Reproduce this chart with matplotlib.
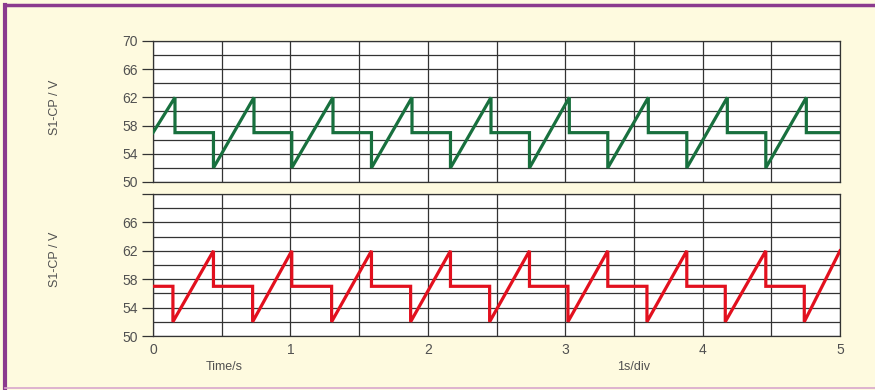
import matplotlib
matplotlib.use("Agg")
import matplotlib.pyplot as plt
from matplotlib.lines import Line2D

plt.rcParams["font.family"] = ["Liberation Sans", "DejaVu Sans"]

# ---- data ----
green_t = [0.0, 0.16, 0.16, 0.44, 0.44, 0.735, 0.735, 1.01, 1.01, 1.31, 1.31,
           1.59, 1.59, 1.885, 1.885, 2.165, 2.165, 2.46, 2.46, 2.74, 2.74,
           3.03, 3.03, 3.31, 3.31, 3.605, 3.605, 3.885, 3.885, 4.18, 4.18,
           4.46, 4.46, 4.755, 4.755, 5.0]
green_v = [57, 62, 57, 57, 52, 62, 57, 57, 52, 62, 57,
           57, 52, 62, 57, 57, 52, 62, 57, 57, 52,
           62, 57, 57, 52, 62, 57, 57, 52, 62, 57,
           57, 52, 62, 57, 57]

red_t = [0.0, 0.145, 0.145, 0.44, 0.44, 0.725, 0.725, 1.01, 1.01, 1.30, 1.30,
         1.59, 1.59, 1.875, 1.875, 2.165, 2.165, 2.45, 2.45, 2.74, 2.74,
         3.02, 3.02, 3.31, 3.31, 3.595, 3.595, 3.885, 3.885, 4.165, 4.165,
         4.46, 4.46, 4.74, 4.74, 5.0]
red_v = [57, 57, 52, 62, 57, 57, 52, 62, 57, 57, 52,
         62, 57, 57, 52, 62, 57, 57, 52, 62, 57,
         57, 52, 62, 57, 57, 52, 62, 57, 57, 52,
         62, 57, 57, 52, 62]

y_ticks_top = [50, 54, 58, 62, 66, 70]
y_labels_top = ["50", "54", "58", "62", "66", "70"]
y_labels_bottom = ["50", "54", "58", "62", "66", ""]
x_ticks = [0, 1, 2, 3, 4, 5]
x_labels = ["0", "1", "2", "3", "4", "5"]
y_grid = list(range(50, 71, 2))
x_grid = [0.0, 0.5, 1.0, 1.5, 2.0, 2.5, 3.0, 3.5, 4.0, 4.5, 5.0]

BG = "#FEFADF"
GRID = "#333333"
TXT = "#505050"

fig = plt.figure(figsize=(8.75, 3.9), dpi=100, facecolor=BG)

W, H = 875, 390
def axrect(l, t, r, b):
    return [l / W, 1 - b / H, (r - l) / W, (b - t) / H]

ax1 = fig.add_axes(axrect(153, 41, 840, 182))
ax2 = fig.add_axes(axrect(153, 194, 840, 336))

for ax, t, v, col, labs in [(ax1, green_t, green_v, "#18703E", y_labels_top),
                            (ax2, red_t, red_v, "#E2101E", y_labels_bottom)]:
    ax.set_facecolor("white")
    ax.set_xlim(0, 5)
    ax.set_ylim(50, 70)
    for g in y_grid:
        ax.axhline(g, color=GRID, lw=0.9, zorder=1)
    for g in x_grid:
        ax.axvline(g, color=GRID, lw=0.9, zorder=1)
    ax.plot(t, v, color=col, lw=2.3, zorder=3, solid_joinstyle="miter")
    ax.set_yticks(y_ticks_top)
    ax.set_yticklabels(labs)
    ax.tick_params(axis="y", length=8, width=0.9, color=GRID, pad=3,
                   labelsize=10, labelcolor=TXT)
    for s in ax.spines.values():
        s.set_color(GRID)
        s.set_linewidth(0.9)

ax1.set_xticks([])
ax2.set_xticks(x_ticks)
ax2.set_xticklabels(x_labels)
ax2.tick_params(axis="x", length=0, pad=5, labelsize=10, labelcolor=TXT)

fig.text(55 / W, 1 - 107 / H, "S1-CP / V", rotation=90, ha="center", va="center",
         fontsize=9, color=TXT)
fig.text(55 / W, 1 - 259 / H, "S1-CP / V", rotation=90, ha="center", va="center",
         fontsize=9, color=TXT)
fig.text(224 / W, 1 - 367 / H, "Time/s", ha="center", va="center", fontsize=9, color=TXT)
fig.text(634 / W, 1 - 367 / H, "1s/div", ha="center", va="center", fontsize=9, color=TXT)

# frame border
fig.add_artist(Line2D([5 / W, 1.0], [1 - 5 / H, 1 - 5 / H], color="#8B3A8E", lw=2.5,
                      transform=fig.transFigure))
fig.add_artist(Line2D([5 / W, 5 / W], [1 - 5 / H, 0.0], color="#8B3A8E", lw=3,
                      transform=fig.transFigure))
fig.add_artist(Line2D([5 / W, 1.0], [1 - 388 / H, 1 - 388 / H], color="#D8A6CC", lw=1.2,
                      transform=fig.transFigure))

fig.savefig("out.png", dpi=100, facecolor=BG)
